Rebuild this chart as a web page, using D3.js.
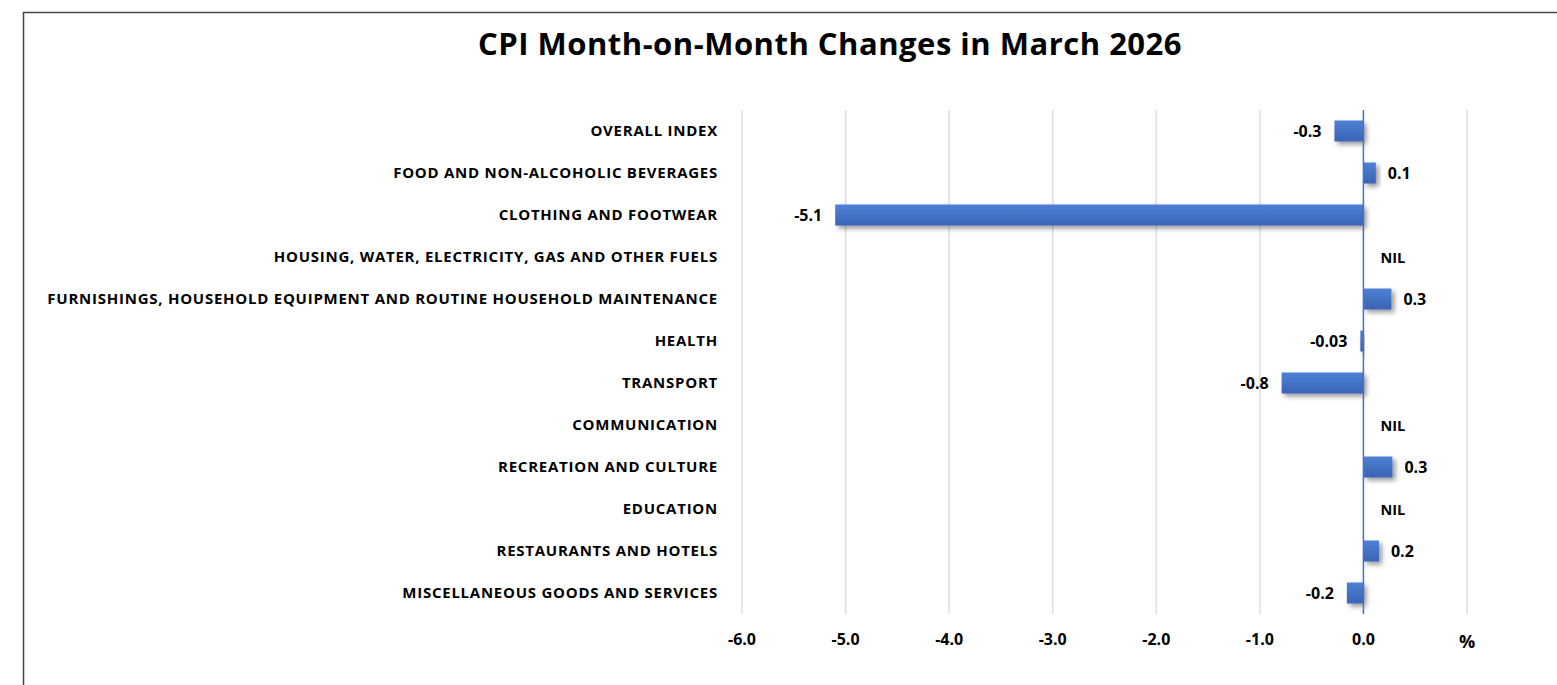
<!DOCTYPE html>
<html>
<head>
<meta charset="utf-8">
<script src="https://cdn.jsdelivr.net/npm/d3@7"></script>
<style>
  body { margin: 0; background: #fff; }
  text { font-family: "Open Sans", "Liberation Sans", Arial, sans-serif; font-weight: bold; fill: #000; }
</style>
</head>
<body>
<div id="chart"></div>
<script>
// Data
const categories = [
    "OVERALL INDEX",
    "FOOD AND NON-ALCOHOLIC BEVERAGES",
    "CLOTHING AND FOOTWEAR",
    "HOUSING, WATER, ELECTRICITY, GAS AND OTHER FUELS",
    "FURNISHINGS, HOUSEHOLD EQUIPMENT AND ROUTINE HOUSEHOLD MAINTENANCE",
    "HEALTH",
    "TRANSPORT",
    "COMMUNICATION",
    "RECREATION AND CULTURE",
    "EDUCATION",
    "RESTAURANTS AND HOTELS",
    "MISCELLANEOUS GOODS AND SERVICES"
]
const values = [-0.28, 0.12, -5.1, 0, 0.27, -0.03, -0.79, 0, 0.28, 0, 0.15, -0.16]
const valueLabels = ["-0.3", "0.1", "-5.1", "NIL", "0.3", "-0.03", "-0.8", "NIL", "0.3", "NIL", "0.2", "-0.2"]
const xTicks = [-6, -5, -4, -3, -2, -1, 0, 1]
const xTickLabels = ["-6.0", "-5.0", "-4.0", "-3.0", "-2.0", "-1.0", "0.0", "%"]

const WIDTH = 1557
const HEIGHT = 685
const PLOT = {LEFT: 742, RIGHT: 1467, TOP: 110, BOTTOM: 614}

const svg = d3.select("#chart").append("svg")
    .attr("width", WIDTH)
    .attr("height", HEIGHT)

// Gradient and shadow for the bars
const defs = svg.append("defs")
const grad = defs.append("linearGradient")
    .attr("id", "barGrad")
    .attr("x1", 0).attr("y1", 0).attr("x2", 0).attr("y2", 1)
grad.append("stop").attr("offset", "0%").attr("stop-color", "#4f80d6")
grad.append("stop").attr("offset", "50%").attr("stop-color", "#4472c4")
grad.append("stop").attr("offset", "100%").attr("stop-color", "#3964b6")

const shadow = defs.append("filter")
    .attr("id", "shadow")
    .attr("x", "-20%").attr("y", "-40%").attr("width", "160%").attr("height", "200%")
shadow.append("feDropShadow")
    .attr("dx", 3).attr("dy", 3)
    .attr("stdDeviation", 2.5)
    .attr("flood-color", "#000")
    .attr("flood-opacity", 0.4)

// Chart border
svg.append("rect")
    .attr("x", 23.5).attr("y", 12.5)
    .attr("width", WIDTH + 10).attr("height", HEIGHT + 10)
    .attr("fill", "none")
    .attr("stroke", "#444")
    .attr("stroke-width", 1.5)

// Title
svg.append("text")
    .attr("x", 830).attr("y", 55)
    .attr("text-anchor", "middle")
    .style("font-size", "31px")
    .style("letter-spacing", "0.5px")
    .text("CPI Month-on-Month Changes in March 2026")

// Scales
const x = d3.scaleLinear()
    .domain([-6, 1])
    .range([PLOT.LEFT, PLOT.RIGHT])

const y = d3.scaleBand()
    .domain(categories)
    .range([PLOT.TOP, PLOT.BOTTOM])
    .paddingInner(0.5)
    .paddingOuter(0.25)

// Gridlines
svg.append("g")
    .selectAll("line")
    .data(xTicks.filter(d => d !== 0))
    .enter()
    .append("line")
    .attr("x1", d => x(d)).attr("x2", d => x(d))
    .attr("y1", PLOT.TOP).attr("y2", PLOT.BOTTOM)
    .attr("stroke", "#dadee5")
    .attr("stroke-width", 1.5)

// Tick labels
svg.append("g")
    .selectAll("text")
    .data(xTicks)
    .enter()
    .append("text")
    .attr("x", d => x(d))
    .attr("y", d => d === 1 ? 648 : 645)
    .attr("text-anchor", "middle")
    .style("font-size", d => d === 1 ? "18px" : "16px")
    .text((d, i) => xTickLabels[i])

// Bars
svg.append("g")
    .selectAll("rect")
    .data(values)
    .enter()
    .append("rect")
    .attr("x", d => x(Math.min(0, d)))
    .attr("y", (d, i) => y(categories[i]))
    .attr("width", d => Math.abs(x(d) - x(0)))
    .attr("height", y.bandwidth())
    .attr("fill", "url(#barGrad)")
    .attr("filter", "url(#shadow)")
    .attr("display", d => d === 0 ? "none" : null)

// Zero axis line
svg.append("line")
    .attr("x1", x(0)).attr("x2", x(0))
    .attr("y1", PLOT.TOP).attr("y2", PLOT.BOTTOM)
    .attr("stroke", "#4472c4")
    .attr("stroke-width", 1.5)

// Category labels
svg.append("g")
    .selectAll("text")
    .data(categories)
    .enter()
    .append("text")
    .attr("x", 718)
    .attr("y", d => y(d) + y.bandwidth() / 2)
    .attr("dy", "0.35em")
    .attr("text-anchor", "end")
    .style("font-size", "15px")
    .style("letter-spacing", "0.75px")
    .text(d => d)

// Value labels
svg.append("g")
    .selectAll("text")
    .data(values)
    .enter()
    .append("text")
    .attr("x", d => d < 0 ? x(d) - 13 : x(d) + (d === 0 ? 17 : 12))
    .attr("y", (d, i) => y(categories[i]) + y.bandwidth() / 2)
    .attr("dy", "0.4em")
    .attr("text-anchor", d => d < 0 ? "end" : "start")
    .style("font-size", d => d === 0 ? "14.5px" : "16px")
    .text((d, i) => valueLabels[i])
</script>
</body>
</html>
